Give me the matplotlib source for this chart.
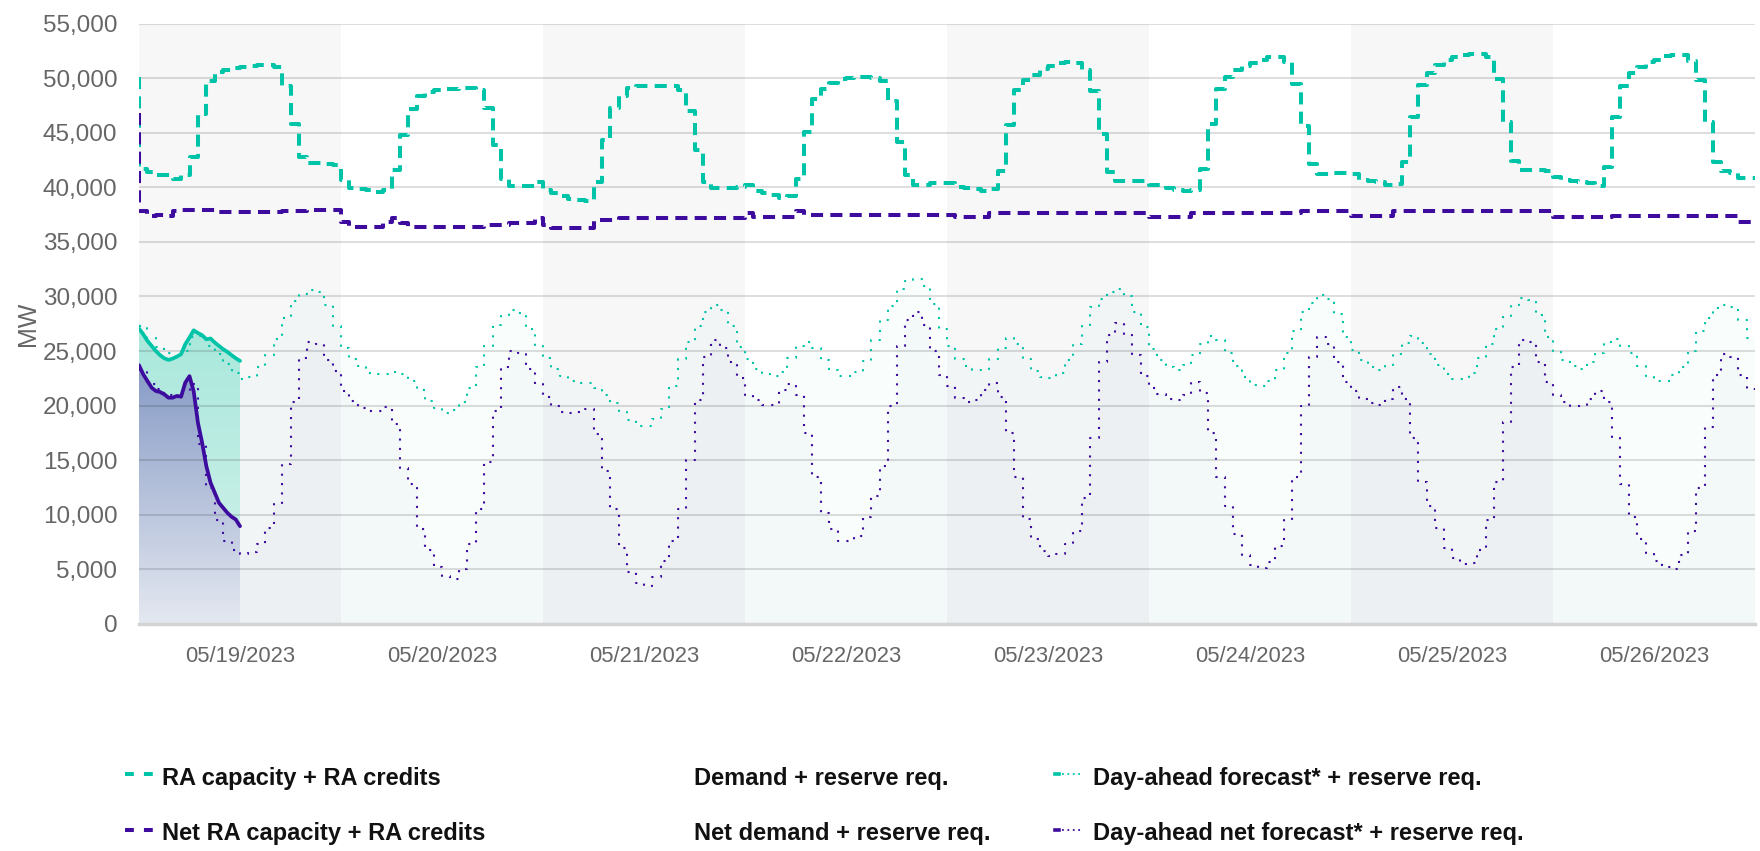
import numpy as np
import matplotlib
matplotlib.use("Agg")
import matplotlib.pyplot as plt
from matplotlib.lines import Line2D

plt.rcParams['font.family'] = ['Liberation Sans', 'DejaVu Sans']

# ---- data (MW), hourly from 05/19/2023 00:00 ----
day_labels = ['05/19/2023', '05/20/2023', '05/21/2023', '05/22/2023',
              '05/23/2023', '05/24/2023', '05/25/2023', '05/26/2023']

ra_start = 50100
ra_capacity = [
    41650, 41400, 41150, 41100, 40800, 41100, 42800, 46700, 49700, 50600, 50750, 50900,
    51050, 51100, 51200, 51200, 51050, 49300, 45800, 42800, 42250, 42250, 42150, 42000,
    40650, 39950, 39850, 39750, 39600, 39750, 41550, 44750, 47150, 48350, 48700, 48950,
    49000, 49000, 49100, 49100, 48900, 47300, 43850, 40800, 40150, 40150, 40150, 40500,
    39750, 39450, 39200, 38950, 38800, 38700, 40500, 44300, 47300, 48350, 49100, 49250,
    49300, 49300, 49300, 49250, 48950, 47000, 43400, 40500, 39950, 39950, 39950, 40050,
    40200, 39650, 39450, 39300, 39050, 39200, 40800, 45050, 48050, 49000, 49550, 49900,
    50050, 50100, 50100, 50000, 49700, 47900, 44150, 41100, 40250, 40250, 40350, 40350,
    40400, 40050, 39900, 39850, 39650, 39850, 41450, 45700, 48950, 49850, 50300, 50850,
    51150, 51350, 51450, 51350, 50750, 48800, 44900, 41400, 40550, 40550, 40550, 40550,
    40200, 40200, 39950, 39750, 39650, 39750, 41650, 45800, 49000, 50100, 50750, 51150,
    51350, 51700, 51950, 51900, 51500, 49450, 45650, 42100, 41200, 41250, 41350, 41350,
    41250, 40700, 40600, 40500, 40250, 40300, 42300, 46450, 49400, 50500, 51200, 51700,
    51900, 52100, 52250, 52250, 51950, 49900, 45950, 42450, 41550, 41550, 41550, 41450,
    40950, 40700, 40600, 40450, 40400, 40150, 41850, 46450, 49300, 50450, 51050, 51450,
    51700, 52000, 52150, 52150, 51600, 49850, 46000, 42300, 41500, 41350, 40850, 40850,
]

net_ra_start = 46800
net_ra_capacity = [
    37800, 37400, 37450, 37400, 37800, 37950, 37900, 37900, 37900, 37700, 37700, 37700,
    37700, 37700, 37700, 37700, 37700, 37800, 37800, 37800, 37950, 37950, 37950, 37950,
    36850, 36400, 36400, 36400, 36400, 36850, 37150, 36700, 36400, 36400, 36400, 36400,
    36400, 36400, 36400, 36400, 36400, 36550, 36550, 36550, 36700, 36700, 36700, 37150,
    36550, 36250, 36250, 36250, 36250, 36250, 37000, 37000, 37000, 37150, 37150, 37150,
    37150, 37150, 37150, 37150, 37150, 37150, 37150, 37150, 37150, 37150, 37150, 37150,
    37600, 37300, 37300, 37300, 37300, 37300, 37800, 37450, 37450, 37450, 37450, 37450,
    37450, 37450, 37450, 37450, 37450, 37450, 37450, 37450, 37450, 37450, 37450, 37450,
    37450, 37250, 37250, 37250, 37250, 37600, 37600, 37600, 37600, 37600, 37600, 37600,
    37600, 37600, 37600, 37600, 37600, 37600, 37600, 37600, 37600, 37600, 37600, 37600,
    37250, 37250, 37250, 37250, 37250, 37600, 37600, 37600, 37600, 37600, 37600, 37600,
    37600, 37600, 37600, 37600, 37600, 37600, 37800, 37800, 37800, 37800, 37800, 37800,
    37400, 37400, 37400, 37400, 37400, 37850, 37850, 37850, 37850, 37850, 37850, 37850,
    37850, 37850, 37850, 37850, 37850, 37850, 37850, 37850, 37850, 37850, 37850, 37850,
    37300, 37300, 37300, 37300, 37300, 37300, 37300, 37400, 37400, 37400, 37400, 37400,
    37400, 37400, 37400, 37400, 37400, 37400, 37400, 37400, 37400, 37400, 36800, 36800,
]

# actual values, 05/19 00:00 - 12:00 (half hourly)
actual_hours = [0, 0.5, 1, 1.5, 2, 2.5, 3, 3.5, 4, 4.5, 5, 5.5, 6, 6.5, 7, 7.5,
                8, 8.5, 9, 9.5, 10, 10.5, 11, 11.5, 12]
demand = [27060, 26540, 25930, 25470, 25010, 24620, 24340, 24190, 24310, 24490,
          24710, 25630, 26240, 26900, 26650, 26450, 26080, 26150, 25780, 25470,
          25170, 24920, 24620, 24340, 24100]
net_demand = [23700, 22870, 22260, 21650, 21340, 21250, 21040, 20730, 20730, 20890,
              20820, 22110, 22700, 21300, 18440, 16600, 14460, 12940, 12020, 11100,
              10640, 10180, 9820, 9570, 8960]

da_forecast = [
    27300, 26200, 25400, 24800, 24500, 25000, 26300, 26400, 25500, 24700, 23800, 23000,
    22400, 22600, 23500, 24600, 26100, 28000, 29600, 30200, 30600, 30400, 29200, 27300,
    25300, 24300, 23600, 23000, 22900, 22900, 23100, 22900, 22300, 21400, 20400, 19800,
    19300, 19600, 20300, 21600, 23500, 25500, 27400, 28300, 28800, 28500, 27000, 25500,
    24400, 23400, 22700, 22300, 22100, 22100, 21600, 21000, 20200, 19400, 18700, 18100,
    18100, 18800, 19700, 21800, 24300, 25800, 27300, 28600, 29200, 28800, 27300, 25400,
    24300, 23400, 22900, 22700, 23100, 24400, 25500, 25800, 25300, 24200, 23300, 22700,
    22700, 23100, 24100, 26000, 27800, 29100, 30700, 31400, 31600, 31000, 29300, 27000,
    25500, 24300, 23600, 23300, 23400, 24300, 25300, 26200, 25600, 24300, 23200, 22600,
    22500, 23000, 24200, 25600, 27300, 29000, 29800, 30400, 30700, 30000, 28600, 27200,
    25200, 24200, 23500, 23300, 23700, 24600, 25600, 26400, 26000, 24800, 23600, 22600,
    21900, 21800, 22300, 23300, 24800, 26800, 28600, 29400, 30100, 29800, 28400, 26300,
    25100, 24200, 23500, 23300, 23600, 24700, 25700, 26400, 25700, 24700, 23700, 22900,
    22400, 22400, 23000, 24400, 25600, 27000, 28200, 29200, 29900, 29700, 28300, 26300,
    25000, 24200, 23600, 23400, 24000, 24800, 25800, 26100, 25500, 24800, 23600, 22700,
    22300, 22300, 22800, 23500, 25000, 26800, 28000, 28900, 29200, 29000, 27800, 26200,
]

da_net_forecast = [
    23300, 22000, 21500, 21000, 20800, 21300, 22000, 16500, 12500, 9500, 7600, 6800,
    6400, 6600, 7300, 8800, 11000, 14700, 20300, 24400, 25800, 25600, 24200, 23200,
    21300, 20400, 19800, 19500, 19500, 19900, 18300, 14300, 12800, 8700, 6800, 5200,
    4400, 4100, 5000, 7300, 10500, 14800, 19500, 23500, 25000, 24800, 23400, 22000,
    20800, 20000, 19400, 19300, 19400, 19700, 17400, 14000, 10500, 7000, 4800, 3800,
    3500, 4300, 5800, 7600, 10500, 15000, 20500, 24500, 26000, 25300, 24000, 22500,
    21000, 20500, 20100, 20100, 21400, 22000, 21000, 17500, 13500, 10200, 8700, 7600,
    7600, 8100, 9800, 11700, 14500, 20000, 25500, 27800, 28600, 27400, 25000, 22800,
    21800, 20700, 20300, 20500, 21400, 22100, 20800, 17500, 13500, 9600, 7800, 6700,
    6200, 6400, 7300, 8500, 11500, 17000, 24000, 26500, 27600, 26500, 24600, 22700,
    21600, 21100, 20600, 20500, 21000, 22200, 21200, 17500, 13500, 10800, 8200, 6300,
    5400, 5100, 5700, 7100, 9500, 13500, 20000, 24500, 26300, 25600, 24000, 22200,
    21300, 20600, 20200, 20100, 20600, 21700, 20600, 17000, 13000, 10800, 8800, 7000,
    6000, 5500, 5600, 6800, 9500, 13000, 18500, 23500, 26000, 25800, 24000, 22200,
    21000, 20300, 20000, 20000, 20600, 21300, 20300, 17000, 12800, 9800, 7800, 6500,
    5800, 5200, 5000, 6300, 8500, 12500, 18000, 22800, 24700, 24500, 22800, 21500,
]

TEAL = '#00c4a7'
PURPLE = '#3d0c9e'
W, H = 1760, 851

fig = plt.figure(figsize=(W / 100, H / 100), dpi=100)
ax = fig.add_axes([139 / W, 227 / H, 1616 / W, 600.5 / H])

n_hours = len(da_forecast)
hours = np.arange(n_hours + 1)
total = 24 * len(day_labels)

# alternating day bands
for d in range(0, len(day_labels), 2):
    ax.axvspan(24 * d, 24 * (d + 1), color='#f7f7f7', lw=0, zorder=0)

# day-ahead forecasts (hourly steps)
da_t = np.r_[da_forecast, da_forecast[-1]]
da_n = np.r_[da_net_forecast, da_net_forecast[-1]]
ax.fill_between(hours, 0, da_t, step='post', color=TEAL, alpha=0.025, lw=0, zorder=1)
ax.fill_between(hours, 0, da_n, step='post', color='#3b4f9a', alpha=0.028, lw=0, zorder=1)


def gradient_fill(x, y, top_rgb, bottom_rgb, z):
    poly = ax.fill_between(x, 0, y, color='none', lw=0)
    path = poly.get_paths()[0]
    frac = np.linspace(1, 0, 256)[:, None]
    top = np.array(top_rgb) / 255.0
    bot = np.array(bottom_rgb) / 255.0
    img = (bot + (top - bot) * frac)[:, None, :]
    im = ax.imshow(img, extent=[min(x), max(x), 0, max(y)], aspect='auto',
                   origin='upper', interpolation='bilinear', zorder=z)
    im.set_clip_path(path, transform=ax.transData)


gradient_fill(actual_hours, demand, (170, 232, 220), (212, 242, 236), 2)
gradient_fill(actual_hours, net_demand, (135, 155, 198), (228, 232, 240), 2.1)

dots = (0, (1, 3.5))
ax.plot(hours, da_t, drawstyle='steps-post', ls=dots, lw=1.5, color=TEAL, zorder=3)
ax.plot(hours, da_n, drawstyle='steps-post', ls=dots, lw=1.5, color=PURPLE, zorder=3)

# actual demand / net demand
ax.plot(actual_hours, demand, color=TEAL, lw=2.7, zorder=5, solid_capstyle='round')
ax.plot(actual_hours, net_demand, color=PURPLE, lw=2.7, zorder=5, solid_capstyle='round')

# RA capacity lines (hourly steps)
ra_x = np.r_[0, hours]
ax.plot(ra_x, np.r_[ra_start, ra_capacity, ra_capacity[-1]], drawstyle='steps-post',
        ls=(0, (3, 1.8)), lw=2.9, color=TEAL, zorder=4)
ax.plot(ra_x, np.r_[net_ra_start, net_ra_capacity, net_ra_capacity[-1]],
        drawstyle='steps-post', ls=(0, (3, 1.8)), lw=2.9, color=PURPLE, zorder=4)

# axes styling
ax.set_xlim(0, total)
ax.set_ylim(0, 55000)
ax.set_axisbelow(False)
ax.grid(axis='y', color='black', alpha=0.13, lw=1.5)
for s in ['top', 'right', 'left']:
    ax.spines[s].set_visible(False)
ax.spines['bottom'].set_color('#d4d4d4')
ax.spines['bottom'].set_linewidth(2.5)
ax.spines['bottom'].set_zorder(6)

yt = np.arange(0, 55001, 5000)
ax.set_yticks(yt)
ax.set_yticklabels([f'{v:,}' for v in yt])
ax.set_xticks([12 + 24 * i for i in range(len(day_labels))])
ax.set_xticklabels(day_labels)
ax.tick_params(axis='y', length=0, pad=15.5, labelsize=17.5, labelcolor='#666666')
ax.tick_params(axis='x', length=0, pad=16, labelsize=15.8, labelcolor='#666666')
ax.set_ylabel('MW', fontsize=18, color='#666666')
ax.yaxis.set_label_coords((40 - 139) / 1616, 0.5)

# legend (drawn by hand)


def fx(px):
    return px / W


def fy(py):
    return 1 - py / H


leg_font = dict(fontsize=17, fontweight='bold', color='#111111', va='baseline')
rows = [(774, 785), (830, 840)]
col1 = ['RA capacity + RA credits', 'Net RA capacity + RA credits']
col2 = ['Demand + reserve req.', 'Net demand + reserve req.']
col3 = ['Day-ahead forecast* + reserve req.', 'Day-ahead net forecast* + reserve req.']
colors = [TEAL, PURPLE]

for i, (ly, by) in enumerate(rows):
    fig.add_artist(Line2D([fx(125), fx(153)], [fy(ly), fy(ly)], color=colors[i],
                          lw=2.9, ls=(0, (2.2, 2.5)), transform=fig.transFigure))
    fig.text(fx(162), fy(by), col1[i], **leg_font)
    fig.text(fx(694), fy(by), col2[i], **leg_font)
    fig.add_artist(Line2D([fx(1055), fx(1059)], [fy(ly), fy(ly)], color=colors[i],
                          lw=2.6, transform=fig.transFigure))
    fig.add_artist(Line2D([fx(1062), fx(1083)], [fy(ly), fy(ly)], color=colors[i],
                          lw=1.3, ls=(0, (1, 2)), transform=fig.transFigure))
    fig.text(fx(1093), fy(by), col3[i], **leg_font)

fig.savefig('out.png', dpi=100)
